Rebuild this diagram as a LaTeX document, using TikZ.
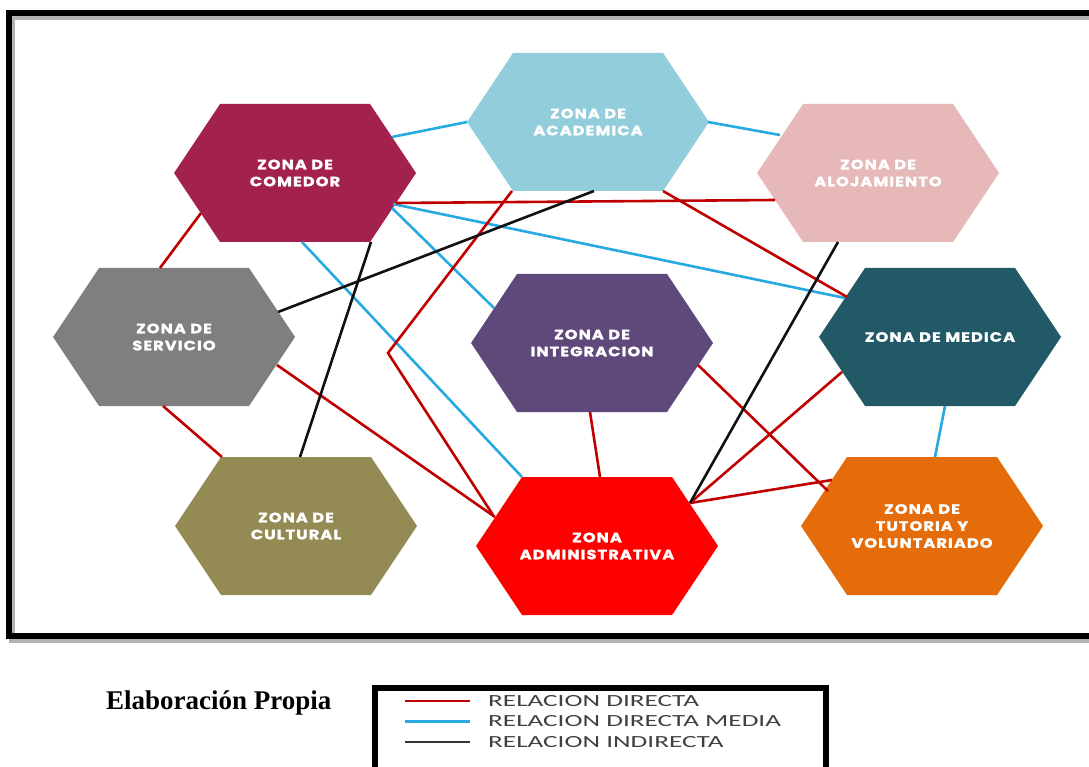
\documentclass[tikz,border=0pt]{standalone}
\usepackage{fontspec}
\usetikzlibrary{calc}
\setmainfont{Liberation Serif}
\newfontfamily\hexfont[LetterSpace=8,FakeStretch=1.2,FakeBold=1.5]{Poppins}
\newfontfamily\legfont[FakeStretch=1.6]{Carlito}
\definecolor{cComedor}{HTML}{A3214F}
\definecolor{cAcad}{HTML}{92CDDC}
\definecolor{cAloj}{HTML}{E6B9B8}
\definecolor{cServ}{HTML}{7F7F7F}
\definecolor{cInteg}{HTML}{5F497A}
\definecolor{cMedica}{HTML}{215967}
\definecolor{cCult}{HTML}{948A54}
\definecolor{cAdmin}{HTML}{FF0000}
\definecolor{cTut}{HTML}{E46C0A}
\definecolor{lnRed}{HTML}{C00000}
\definecolor{lnBlue}{HTML}{27A9E1}
\definecolor{lnBlack}{HTML}{111111}
\definecolor{legText}{HTML}{404040}
\newcommand\hexzone[5]{%
  \begin{scope}[shift={(#2,#3)}]
    \fill[#4] (-121,0) -- (-75,-69) -- (75,-69) -- (121,0) -- (75,69) -- (-75,69) -- cycle;
  \end{scope}
  \node[hextext] (#1) at (#2,#3) {#5};
}
\begin{document}
\begin{tikzpicture}[x=1pt,y=-1pt,
  hextext/.style={text=white, font=\hexfont\bfseries\fontsize{13.5}{17}\selectfont, align=center, inner sep=0pt},
  rd/.style={draw=lnRed, line width=2.6pt},
  bl/.style={draw=lnBlue, line width=2.6pt},
  bk/.style={draw=lnBlack, line width=2.6pt},
  legtext/.style={font=\legfont\fontsize{17}{17}\selectfont, text=legText, anchor=west, inner sep=0pt}]
\useasboundingbox (0,0) rectangle (1089,767);
\fill[white] (0,0) rectangle (1089,767);
% outer frame
\draw[line width=6pt, gray!60] (11.5,17) rectangle (1110,640);
\draw[line width=6pt, black] (8.5,13.5) rectangle (1106,636);
% hexagons
\hexzone{comedor}{295}{173}{cComedor}{ZONA DE\\COMEDOR}
\hexzone{acad}{588}{122}{cAcad}{ZONA DE\\ACADEMICA}
\hexzone{aloj}{878}{173}{cAloj}{ZONA DE\\ALOJAMIENTO}
\hexzone{serv}{174}{337}{cServ}{ZONA DE\\SERVICIO}
\hexzone{integ}{592}{343}{cInteg}{ZONA DE\\INTEGRACION}
\hexzone{medica}{940}{337}{cMedica}{ZONA DE MEDICA}
\hexzone{cult}{296}{526}{cCult}{ZONA DE\\CULTURAL}
\hexzone{admin}{597}{546}{cAdmin}{ZONA\\ADMINISTRATIVA}
\hexzone{tut}{922}{526}{cTut}{ZONA DE\\TUTORIA Y\\VOLUNTARIADO}
\coordinate (bend) at (388,353);
% blue connectors
\draw[bl] ([shift={(97,-36)}]comedor.center) -- ([shift={(-121,0)}]acad.center);
\draw[bl] ([shift={(120,0)}]acad.center) -- ([shift={(-98,-38)}]aloj.center);
\draw[bl] ([shift={(98,31)}]comedor.center) -- ([shift={(-95,-39)}]medica.center);
\draw[bl] ([shift={(97,35)}]comedor.center) -- ([shift={(-98,-35)}]integ.center);
\draw[bl] ([shift={(7,69)}]comedor.center) -- ([shift={(-75,-69)}]admin.center);
\draw[bl] ([shift={(5,69)}]medica.center) -- ([shift={(13,-69)}]tut.center);
% red connectors
\draw[rd] ([shift={(101,30)}]comedor.center) -- ([shift={(-103,27)}]aloj.center);
\draw[rd] ([shift={(-94,40)}]comedor.center) -- ([shift={(-14,-69)}]serv.center);
\draw[rd] ([shift={(-11,69)}]serv.center) -- ([shift={(-74,-69)}]cult.center);
\draw[rd] ([shift={(103,28)}]serv.center) -- ([shift={(-102,-29)}]admin.center);
\draw[rd] ([shift={(-76,69)}]acad.center) -- (bend) -- ([shift={(-104,-31)}]admin.center);
\draw[rd] ([shift={(75,69)}]acad.center) -- ([shift={(-93,-40)}]medica.center);
\draw[rd] ([shift={(-2,69)}]integ.center) -- ([shift={(3,-69)}]admin.center);
\draw[rd] ([shift={(106,22)}]integ.center) -- ([shift={(-94,-35)}]tut.center);
\draw[rd] ([shift={(93,-43)}]admin.center) -- ([shift={(-90,-46)}]tut.center);
\draw[rd] ([shift={(93,-43)}]admin.center) -- ([shift={(-98,35)}]medica.center);
% black connectors
\draw[bk] ([shift={(104,-25)}]serv.center) -- ([shift={(6,69)}]acad.center);
\draw[bk] ([shift={(76,69)}]comedor.center) -- ([shift={(4,-69)}]cult.center);
\draw[bk] ([shift={(-40,69)}]aloj.center) -- ([shift={(93,-43)}]admin.center);
% caption
\node[font=\bfseries\fontsize{27}{27}\selectfont, anchor=west, inner sep=0pt] (cap) at (106,703) {Elaboración Propia};
% legend
\draw[line width=6pt, black] (375,688) rectangle (826,775);
\node[legtext] (l1) at (488,701) {RELACION DIRECTA};
\node[legtext] (l2) at (488,721.5) {RELACION DIRECTA MEDIA};
\node[legtext] (l3) at (488,742) {RELACION INDIRECTA};
\draw[rd, line width=2.4pt] ([xshift=-83pt]l1.west) -- ([xshift=-18pt]l1.west);
\draw[bl, line width=2.4pt] ([xshift=-83pt]l2.west) -- ([xshift=-18pt]l2.west);
\draw[bk, line width=2.4pt, draw=black!80] ([xshift=-83pt]l3.west) -- ([xshift=-18pt]l3.west);
\end{tikzpicture}
\end{document}
